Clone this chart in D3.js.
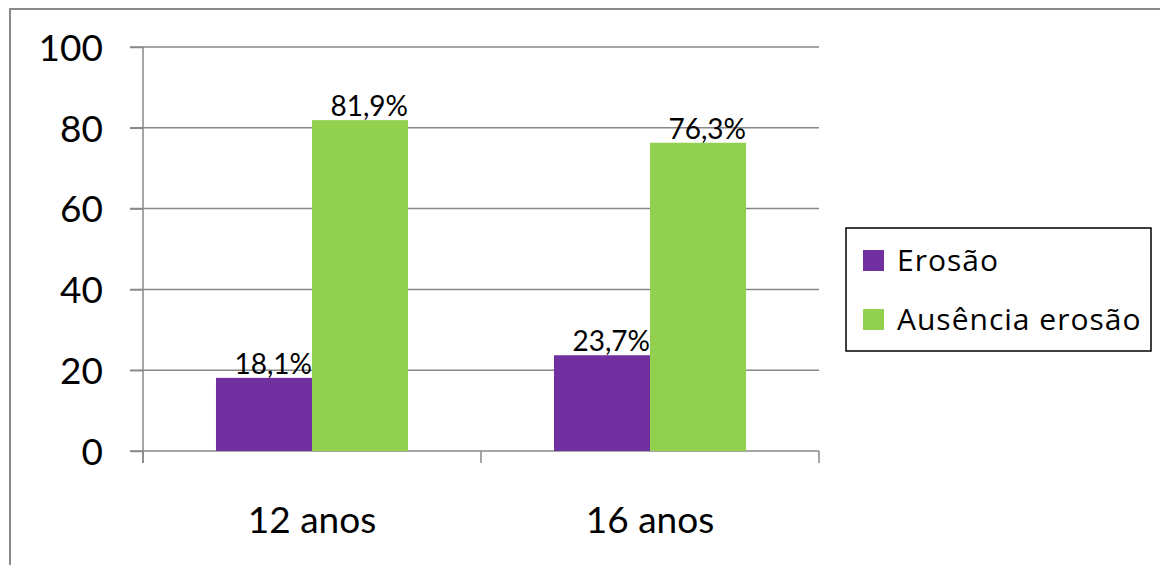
<!DOCTYPE html>
<html>
<head>
<meta charset="utf-8">
<script src="https://cdn.jsdelivr.net/npm/d3@7"></script>
<style>
	body { margin: 0; background: #fff; }
	svg { display: block; font-family: Lato, "Open Sans", sans-serif; }
</style>
</head>
<body>
<svg width="1160" height="565"></svg>
<script>
// data
var categories = ["12 anos", "16 anos"];
var seriesNames = ["Erosão", "Ausência erosão"];
var erosao = [18.1, 23.7];
var ausencia = [81.9, 76.3];
var labelsErosao = ["18,1%", "23,7%"];
var labelsAusencia = ["81,9%", "76,3%"];
var yTicks = [0, 20, 40, 60, 80, 100];
var colors = ["#7030A0", "#92D050"];

(function() {
	var svg = d3.select("svg");

	// outer chart border
	svg.append("rect")
		.attr("x", 10).attr("y", 9)
		.attr("width", 1300).attr("height", 700)
		.attr("fill", "none").attr("stroke", "#8a8a8a").attr("stroke-width", 2);

	var plotLeft = 143, plotRight = 819, plotTop = 47, plotBottom = 451;

	var x0 = d3.scaleBand().domain(categories).range([plotLeft, plotRight]);
	var x1 = d3.scaleBand().domain(seriesNames).range([0, x0.bandwidth()]).paddingOuter(0.76);
	var y = d3.scaleLinear().domain([0, 100]).range([plotBottom, plotTop]);

	// gridlines
	svg.append("g")
		.selectAll("line")
		.data(yTicks)
		.enter()
		.append("line")
		.attr("x1", plotLeft - 13).attr("x2", plotRight)
		.attr("y1", function(d) { return y(d); })
		.attr("y2", function(d) { return y(d); })
		.attr("stroke", "#888").attr("stroke-width", 1.5);

	// y axis
	var yAxis = svg.append("g")
		.attr("transform", "translate(" + plotLeft + ",0)")
		.call(d3.axisLeft(y).tickValues(yTicks).tickSize(13).tickPadding(27));
	yAxis.selectAll("path, line").attr("stroke", "#888").attr("stroke-width", 1.5);
	yAxis.select(".domain").attr("d", "M0," + plotTop + "V" + (plotBottom + 12));
	yAxis.selectAll("text").attr("font-size", 37).attr("font-family", "Lato").attr("fill", "#000").attr("dy", "0.36em");

	// x axis
	var xAxis = svg.append("g")
		.attr("transform", "translate(0," + plotBottom + ")")
		.call(d3.axisBottom(x0).tickSize(0).tickPadding(82));
	xAxis.select(".domain").remove();
	xAxis.selectAll("text").attr("font-size", 37).attr("font-family", "Lato").attr("fill", "#000").attr("dy", "0");
	svg.append("g")
		.selectAll("line")
		.data([plotLeft, (plotLeft + plotRight) / 2, plotRight])
		.enter()
		.append("line")
		.attr("x1", function(d) { return d; }).attr("x2", function(d) { return d; })
		.attr("y1", plotBottom).attr("y2", plotBottom + 12)
		.attr("stroke", "#888").attr("stroke-width", 1.5);

	// bars
	var rows = categories.map(function(c, i) {
		return { cat: c, vals: [
			{ s: seriesNames[0], v: erosao[i], label: labelsErosao[i], c: colors[0] },
			{ s: seriesNames[1], v: ausencia[i], label: labelsAusencia[i], c: colors[1] }
		]};
	});

	var group = svg.append("g")
		.selectAll("g")
		.data(rows)
		.enter()
		.append("g")
		.attr("transform", function(d) { return "translate(" + x0(d.cat) + ",0)"; });

	group.selectAll("rect")
		.data(function(d) { return d.vals; })
		.enter()
		.append("rect")
		.attr("x", function(d) { return x1(d.s); })
		.attr("y", function(d) { return y(d.v); })
		.attr("width", x1.bandwidth())
		.attr("height", function(d) { return plotBottom - y(d.v); })
		.attr("fill", function(d) { return d.c; });

	// data labels
	group.selectAll("text")
		.data(function(d) { return d.vals; })
		.enter()
		.append("text")
		.attr("x", function(d) { return x1(d.s) + x1.bandwidth(); })
		.attr("y", function(d) { return y(d.v) - 4; })
		.attr("text-anchor", "end")
		.attr("font-size", 28)
		.text(function(d) { return d.label; });

	// legend
	var legend = svg.append("g");
	legend.append("rect")
		.attr("x", 846).attr("y", 228).attr("width", 305).attr("height", 123)
		.attr("fill", "#fff").attr("stroke", "#000").attr("stroke-width", 1.5);
	var item = legend.selectAll("g")
		.data(seriesNames)
		.enter()
		.append("g")
		.attr("transform", function(d, i) { return "translate(863," + (250 + i * 59) + ")"; });
	item.append("rect")
		.attr("width", 21).attr("height", 21)
		.attr("fill", function(d, i) { return colors[i]; });
	item.append("text")
		.attr("x", 34).attr("y", 21)
		.attr("font-size", 30)
		.attr("letter-spacing", 1)
		.attr("font-family", "Open Sans")
		.text(function(d) { return d; });
})();
</script>
</body>
</html>
